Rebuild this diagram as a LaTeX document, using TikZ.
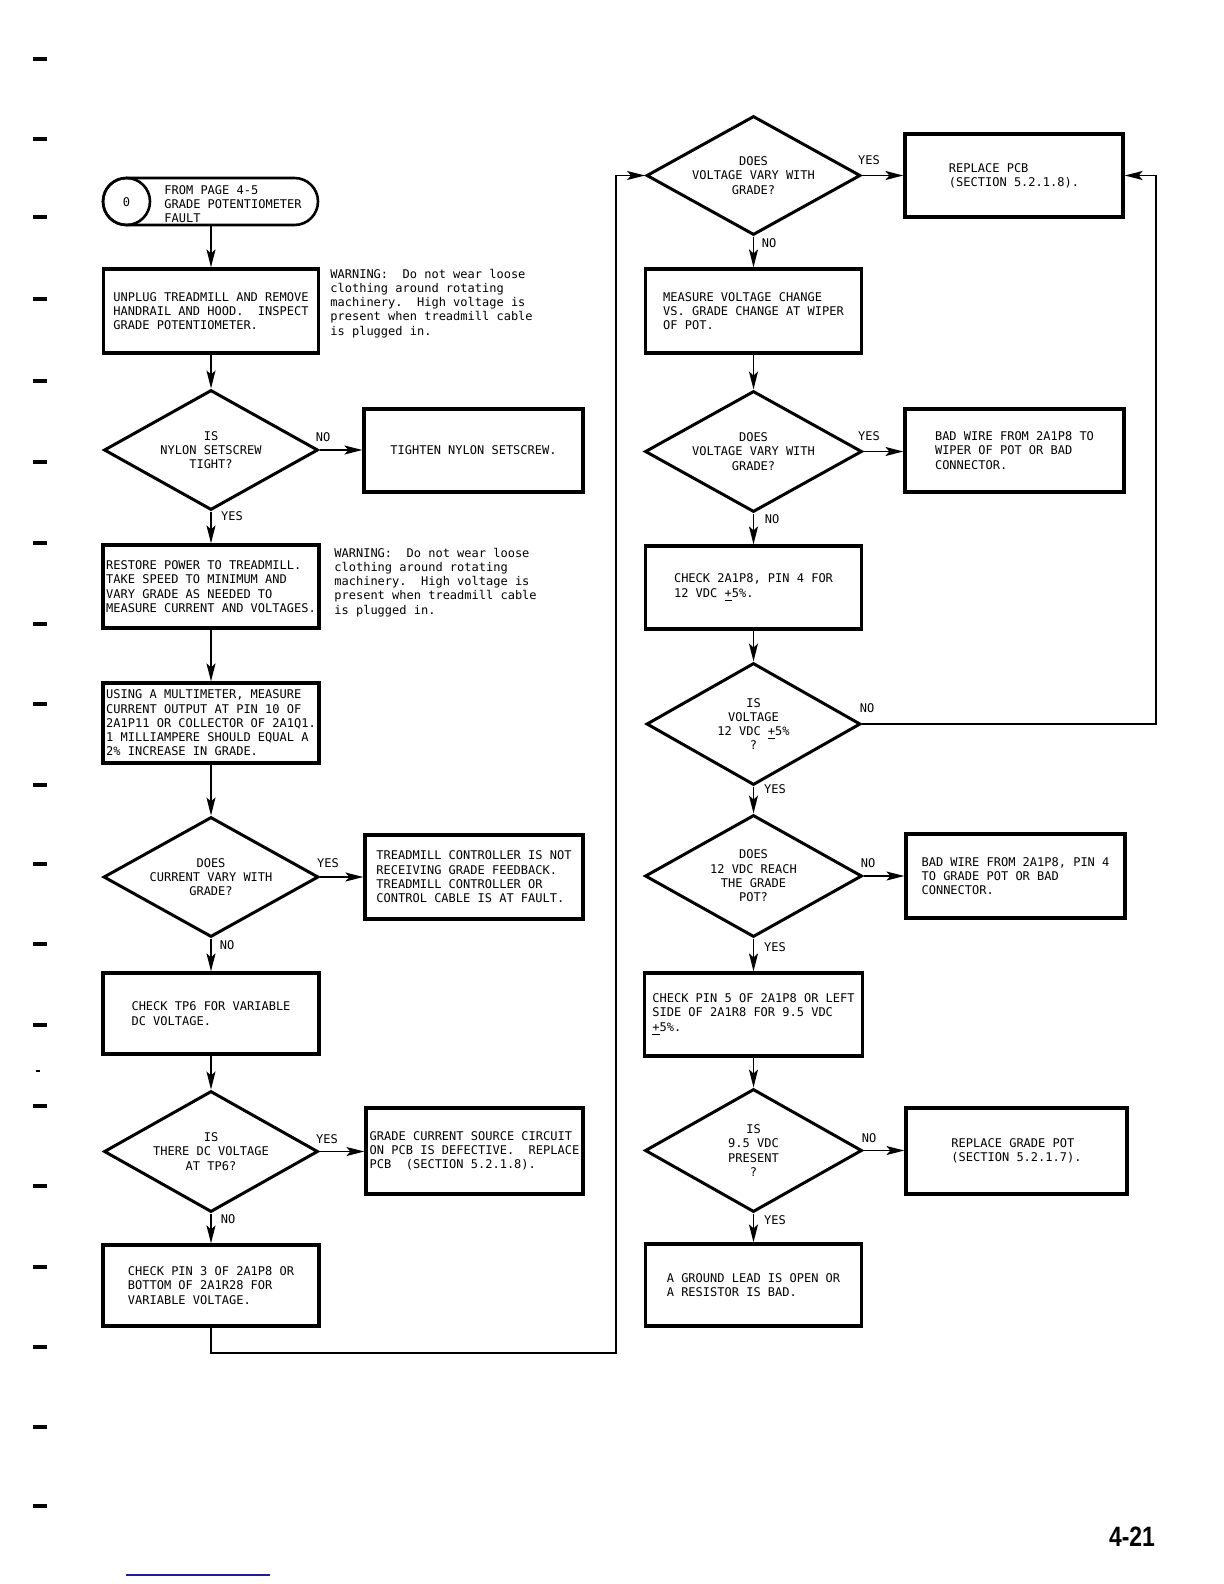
\documentclass[tikz,border=0pt]{standalone}
\usepackage{fontspec}
\setmonofont{DejaVu Sans Mono}
\newfontfamily\pgnumfont{Liberation Sans}
\usetikzlibrary{shapes.geometric,arrows.meta}
\newcommand\flowfont{\ttfamily\fontsize{6}{7.15}\selectfont}
\definecolor{pageblue}{RGB}{30,30,150}
\tikzset{
  boxn/.style={draw, line width=1.6pt, align=left, font=\flowfont, inner sep=0pt},
  dian/.style={diamond, aspect=1.78, draw, line width=1.5pt, align=center, font=\flowfont, inner sep=0pt},
  lab/.style={font=\flowfont, inner sep=0pt},
  conn/.style={line width=0.75pt, -{Stealth[length=9pt,width=4.5pt,inset=2pt]}},
  wire/.style={line width=0.75pt},
  edgemark/.style={line width=1.6pt}
}
\begin{document}
\begin{tikzpicture}[x=0.5pt,y=-0.5pt]
\fill[white] (0,0) rectangle (1224,1584);
\useasboundingbox (0,0) rectangle (1224,1584);

% ---------- left column ----------
\node[draw, line width=1.3pt, rounded corners=11.75pt, minimum width=107.5pt, minimum height=23.5pt, inner sep=0pt] (P) at (210.5,201.5) {};
\node[draw, circle, line width=1.3pt, minimum size=23.5pt, inner sep=0pt] (C0) at (126.5,201.5) {};
\node[lab] (zero) at (126.5,202) {0};
\node[lab, anchor=west, align=left] (PT) at (164,204) {FROM PAGE 4-5\\GRADE POTENTIOMETER\\FAULT};

\node[boxn, minimum width=107.5pt, minimum height=42pt] (B1) at (211,311) {UNPLUG TREADMILL AND REMOVE\\HANDRAIL AND HOOD.\ \ INSPECT\\GRADE POTENTIOMETER.};
\node[lab, anchor=north west, align=left] (W1) at (330,268.5) {WARNING:\ \ Do not wear loose\\clothing around rotating\\machinery.\ \ High voltage is\\present when treadmill cable\\is plugged in.};

\node[dian, minimum width=107pt, minimum height=60pt] (D1) at (211,450) {IS\\NYLON SETSCREW\\TIGHT?};
\node[boxn, minimum width=109.5pt, minimum height=41.5pt] (T1) at (473.5,450.5) {TIGHTEN NYLON SETSCREW.};

\node[boxn, minimum width=108pt, minimum height=41.5pt] (B2) at (211,586.5) {RESTORE POWER TO TREADMILL.\\TAKE SPEED TO MINIMUM AND\\VARY GRADE AS NEEDED TO\\MEASURE CURRENT AND VOLTAGES.};
\node[lab, anchor=north west, align=left] (W2) at (334,547.5) {WARNING:\ \ Do not wear loose\\clothing around rotating\\machinery.\ \ High voltage is\\present when treadmill cable\\is plugged in.};

\node[boxn, minimum width=108pt, minimum height=40pt] (B3) at (211,723) {USING A MULTIMETER, MEASURE\\CURRENT OUTPUT AT PIN 10 OF\\2A1P11 OR COLLECTOR OF 2A1Q1.\\1 MILLIAMPERE SHOULD EQUAL A\\2\% INCREASE IN GRADE.};

\node[dian, minimum width=107.5pt, minimum height=60pt] (D3) at (211,877) {DOES\\CURRENT VARY WITH\\GRADE?};
\node[boxn, minimum width=109pt, minimum height=42pt] (T3) at (474,877) {TREADMILL CONTROLLER IS NOT\\RECEIVING GRADE FEEDBACK.\\TREADMILL CONTROLLER OR\\CONTROL CABLE IS AT FAULT.};

\node[boxn, minimum width=108pt, minimum height=40.5pt] (B4) at (211,1013.5) {CHECK TP6 FOR VARIABLE\\DC VOLTAGE.};

\node[dian, minimum width=107pt, minimum height=60.5pt] (D4) at (211,1151.5) {IS\\THERE DC VOLTAGE\\AT TP6?};
\node[boxn, minimum width=108.5pt, minimum height=43pt] (T4) at (474.5,1151) {GRADE CURRENT SOURCE CIRCUIT\\ON PCB IS DEFECTIVE.\ \ REPLACE\\PCB\ \ (SECTION 5.2.1.8).};

\node[boxn, minimum width=108pt, minimum height=40.5pt] (B5) at (211,1285.5) {CHECK PIN 3 OF 2A1P8 OR\\BOTTOM OF 2A1R28 FOR\\VARIABLE VOLTAGE.};

% ---------- right column ----------
\node[dian, minimum width=107pt, minimum height=59.5pt] (DR1) at (753.5,175.5) {DOES\\VOLTAGE VARY WITH\\GRADE?};
\node[boxn, minimum width=109pt, minimum height=41.5pt] (RR1) at (1014,175.5) {REPLACE PCB\\(SECTION 5.2.1.8).};

\node[boxn, minimum width=108pt, minimum height=42pt] (BR2) at (753.5,311) {MEASURE VOLTAGE CHANGE\\VS. GRADE CHANGE AT WIPER\\OF POT.};

\node[dian, minimum width=108.5pt, minimum height=60.5pt] (DR2) at (753.5,451.5) {DOES\\VOLTAGE VARY WITH\\GRADE?};
\node[boxn, minimum width=109.5pt, minimum height=41.5pt] (RR2) at (1014.5,450.5) {BAD WIRE FROM 2A1P8 TO\\WIPER OF POT OR BAD\\CONNECTOR.};

\node[boxn, minimum width=108pt, minimum height=41.5pt] (BR3) at (753.5,587.5) {CHECK 2A1P8, PIN 4 FOR\\12 VDC \underline{+}5\%.};

\node[dian, minimum width=107pt, minimum height=61pt] (DR3) at (753.5,724) {IS\\VOLTAGE\\12 VDC \underline{+}5\%\\?};

\node[dian, minimum width=108.5pt, minimum height=61pt] (DR4) at (753.5,876) {DOES\\12 VDC REACH\\THE GRADE\\POT?};
\node[boxn, minimum width=109.5pt, minimum height=42pt] (RR4) at (1015.5,876) {BAD WIRE FROM 2A1P8, PIN 4\\TO GRADE POT OR BAD\\CONNECTOR.};

\node[boxn, minimum width=109pt, minimum height=41.5pt] (BR5) at (753.5,1014.5) {CHECK PIN 5 OF 2A1P8 OR LEFT\\SIDE OF 2A1R8 FOR 9.5 VDC\\\underline{+}5\%.};

\node[dian, minimum width=108.5pt, minimum height=61.5pt] (DR5) at (753.5,1150.5) {IS\\9.5 VDC\\PRESENT\\?};
\node[boxn, minimum width=110.5pt, minimum height=43pt] (RR5) at (1016.5,1151) {REPLACE GRADE POT\\(SECTION 5.2.1.7).};

\node[boxn, minimum width=108pt, minimum height=41pt] (BR6) at (753.5,1285) {A GROUND LEAD IS OPEN OR\\A RESISTOR IS BAD.};

% ---------- connectors, left ----------
\draw[conn] (P.south -| B1.north) -- (B1.north);
\draw[conn] (B1.south) -- (D1.north);
\draw[conn] (D1.east) -- (D1.east -| T1.west);
\draw[conn] (D1.south) -- (B2.north);
\draw[conn] (B2.south) -- (B3.north);
\draw[conn] (B3.south) -- (D3.north);
\draw[conn] (D3.east) -- (D3.east -| T3.west);
\draw[conn] (D3.south) -- (B4.north);
\draw[conn] (B4.south) -- (D4.north);
\draw[conn] (D4.east) -- (D4.east -| T4.west);
\draw[conn] (D4.south) -- (B5.north);
\coordinate (c1) at (616,1353);
\draw[conn] (B5.south) |- (c1) |- (DR1.west);

% ---------- connectors, right ----------
\draw[conn] (DR1.east) -- (DR1.east -| RR1.west);
\draw[conn] (DR1.south) -- (BR2.north);
\draw[conn] (BR2.south) -- (DR2.north);
\draw[conn] (DR2.east) -- (DR2.east -| RR2.west);
\draw[conn] (DR2.south) -- (BR3.north);
\draw[conn] (BR3.south) -- (DR3.north);
\coordinate (c2) at (1156,724);
\draw[conn] (DR3.east) -- (c2) |- (RR1.east);
\draw[conn] (DR3.south) -- (DR4.north);
\draw[conn] (DR4.east) -- (DR4.east -| RR4.west);
\draw[conn] (DR4.south) -- (BR5.north);
\draw[conn] (BR5.south) -- (DR5.north);
\draw[conn] (DR5.east) -- (DR5.east -| RR5.west);
\draw[conn] (DR5.south) -- (BR6.north);

% ---------- labels ----------
\node[lab] (l1) at (323,437) {NO};
\node[lab] (l2) at (232,516) {YES};
\node[lab] (l3) at (328,863) {YES};
\node[lab] (l4) at (227,945) {NO};
\node[lab] (l5) at (327,1139) {YES};
\node[lab] (l6) at (228,1219) {NO};
\node[lab] (r1) at (869,160) {YES};
\node[lab] (r2) at (769,243) {NO};
\node[lab] (r3) at (869,436) {YES};
\node[lab] (r4) at (772,519) {NO};
\node[lab] (r5) at (867,708) {NO};
\node[lab] (r6) at (775,789) {YES};
\node[lab] (r7) at (868,863) {NO};
\node[lab] (r8) at (775,947) {YES};
\node[lab] (r9) at (869,1138) {NO};
\node[lab] (r10) at (775,1220) {YES};

% ---------- page furniture ----------
\node[inner sep=0pt] (pg) at (1132,1537) {\scalebox{0.82}[1]{\pgnumfont\bfseries\fontsize{14}{14}\selectfont 4-21}};
\draw[line width=1pt, pageblue] (126,1575) -- (270,1575);
\foreach \yy in {59,139,217,299,381,462,543,624,704,785,864,944,1025,1106,1186,1267,1347,1427,1506}
  \draw[edgemark] (33,\yy) -- (47,\yy);
\draw[line width=0.8pt] (36,1071) -- (40,1071);
\end{tikzpicture}
\end{document}
